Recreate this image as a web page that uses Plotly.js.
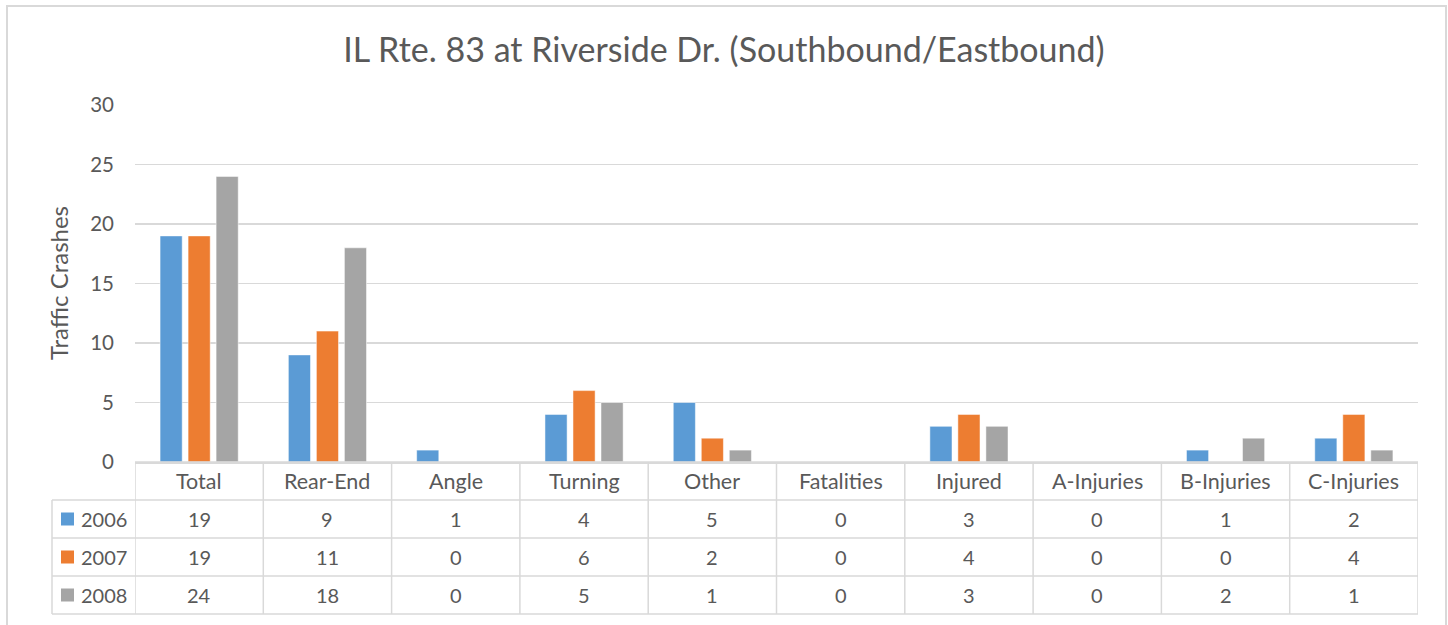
<!DOCTYPE html>
<html>
<head>
<meta charset="utf-8">
<script src="https://cdn.plot.ly/plotly-3.0.1.min.js"></script>
<style>html,body{margin:0;padding:0;background:#fff;}#chart{width:1448px;height:625px;}</style>
</head>
<body>
<div id="chart"></div>
<script>
const categories = ["Total","Rear-End","Angle","Turning","Other","Fatalities","Injured","A-Injuries","B-Injuries","C-Injuries"];
const years = ["2006","2007","2008"];
const values2006 = [19, 9, 1, 4, 5, 0, 3, 0, 1, 2];
const values2007 = [19, 11, 0, 6, 2, 0, 4, 0, 0, 4];
const values2008 = [24, 18, 0, 5, 1, 0, 3, 0, 2, 1];
const colors = ["#5B9BD5", "#ED7D31", "#A5A5A5"];

const series = [values2006, values2007, values2008];
const FONT = "Lato, 'Open Sans', sans-serif";
const TXT = "#595959";
const LINE = "#D9D9D9";

const W = 1448, H = 625;
const M = {l: 135, r: 30, t: 105, b: 163};
const plotW = W - M.l - M.r, plotH = H - M.t - M.b;
const rowPx = 38;
const rowH = rowPx / plotH;          // paper units per table row
const legLeft = (52 - M.l) / plotW;  // legend column left edge (paper)

const traces = series.map((vals, i) => ({
  type: "bar",
  name: years[i],
  x: categories,
  y: vals,
  marker: {color: colors[i], line: {color: "#fff", width: 0.5}},
  hoverinfo: "x+y+name"
}));

const shapes = [];
const annotations = [];

// chart border
shapes.push({type: "rect", xref: "paper", yref: "paper",
  x0: (7 - M.l) / plotW, x1: (1446 - M.l) / plotW,
  y0: -(H - M.t - M.b + 3) / plotH - 0.02, y1: (462 - 6) / plotH,
  line: {color: LINE, width: 2}, fillcolor: "rgba(0,0,0,0)", layer: "below"});

// table horizontal lines
const nRows = years.length + 1;
for (let r = 0; r <= nRows; r++) {
  const y = -r * rowH;
  shapes.push({type: "line", xref: "paper", yref: "paper",
    x0: r === 0 ? 0 : legLeft, x1: 1, y0: y, y1: y,
    line: {color: LINE, width: 1.5}});
}
// vertical lines for category columns
for (let c = 0; c <= categories.length; c++) {
  shapes.push({type: "line", xref: "x", yref: "paper",
    x0: c - 0.5, x1: c - 0.5, y0: 0, y1: -nRows * rowH,
    line: {color: LINE, width: 1.5}});
}
// legend column left edge
shapes.push({type: "line", xref: "paper", yref: "paper",
  x0: legLeft, x1: legLeft, y0: -rowH, y1: -nRows * rowH,
  line: {color: LINE, width: 1.5}});

// header labels
categories.forEach((c, i) => {
  annotations.push({xref: "x", yref: "paper", x: i, y: -0.5 * rowH,
    text: c, showarrow: false, xanchor: "center", yanchor: "middle",
    font: {family: FONT, size: 21.5, color: TXT}});
});
// rows
years.forEach((yr, r) => {
  const yc = -(r + 1.5) * rowH;
  const kx0 = (61 - M.l) / plotW, kx1 = (74 - M.l) / plotW;
  const kh = 13 / plotH;
  shapes.push({type: "rect", xref: "paper", yref: "paper",
    x0: kx0, x1: kx1, y0: yc - kh / 2, y1: yc + kh / 2,
    fillcolor: colors[r], line: {width: 0}});
  annotations.push({xref: "paper", yref: "paper", x: (79 - M.l) / plotW, y: yc,
    text: yr, showarrow: false, xanchor: "left", yanchor: "middle",
    font: {family: FONT, size: 20, color: TXT}});
  series[r].forEach((v, i) => {
    annotations.push({xref: "x", yref: "paper", x: i, y: yc,
      text: String(v), showarrow: false, xanchor: "center", yanchor: "middle",
      font: {family: FONT, size: 20, color: TXT}});
  });
});

// y axis title
annotations.push({xref: "paper", yref: "paper", x: (58 - M.l) / plotW, y: (462 - 283) / plotH,
  text: "Traffic Crashes", textangle: -90, showarrow: false,
  xanchor: "center", yanchor: "middle",
  font: {family: FONT, size: 24, color: TXT}});

const layout = {
  width: W, height: H,
  margin: M,
  paper_bgcolor: "#fff", plot_bgcolor: "#fff",
  title: {text: "IL Rte. 83 at Riverside Dr. (Southbound/Eastbound)",
    x: 0.5, xref: "container", y: 1 - 50 / H, yref: "container", yanchor: "middle",
    font: {family: FONT, size: 34, color: TXT}},
  showlegend: false,
  barmode: "group",
  bargap: 0.345,
  bargroupgap: 0.21,
  xaxis: {type: "category", range: [-0.5, categories.length - 0.5],
    showticklabels: false, showgrid: false, zeroline: false, ticks: "",
    showline: true, linecolor: LINE, linewidth: 1.5, fixedrange: true},
  yaxis: {range: [0, 30], dtick: 5, tick0: 0, showgrid: true, gridcolor: LINE, gridwidth: 1.5,
    zeroline: false, showline: false, ticks: "", ticklabelstandoff: 20,
    tickfont: {family: FONT, size: 20.5, color: TXT}, fixedrange: true},
  shapes: shapes,
  annotations: annotations
};

Plotly.newPlot("chart", traces, layout, {displayModeBar: false, staticPlot: true});
</script>
</body>
</html>
